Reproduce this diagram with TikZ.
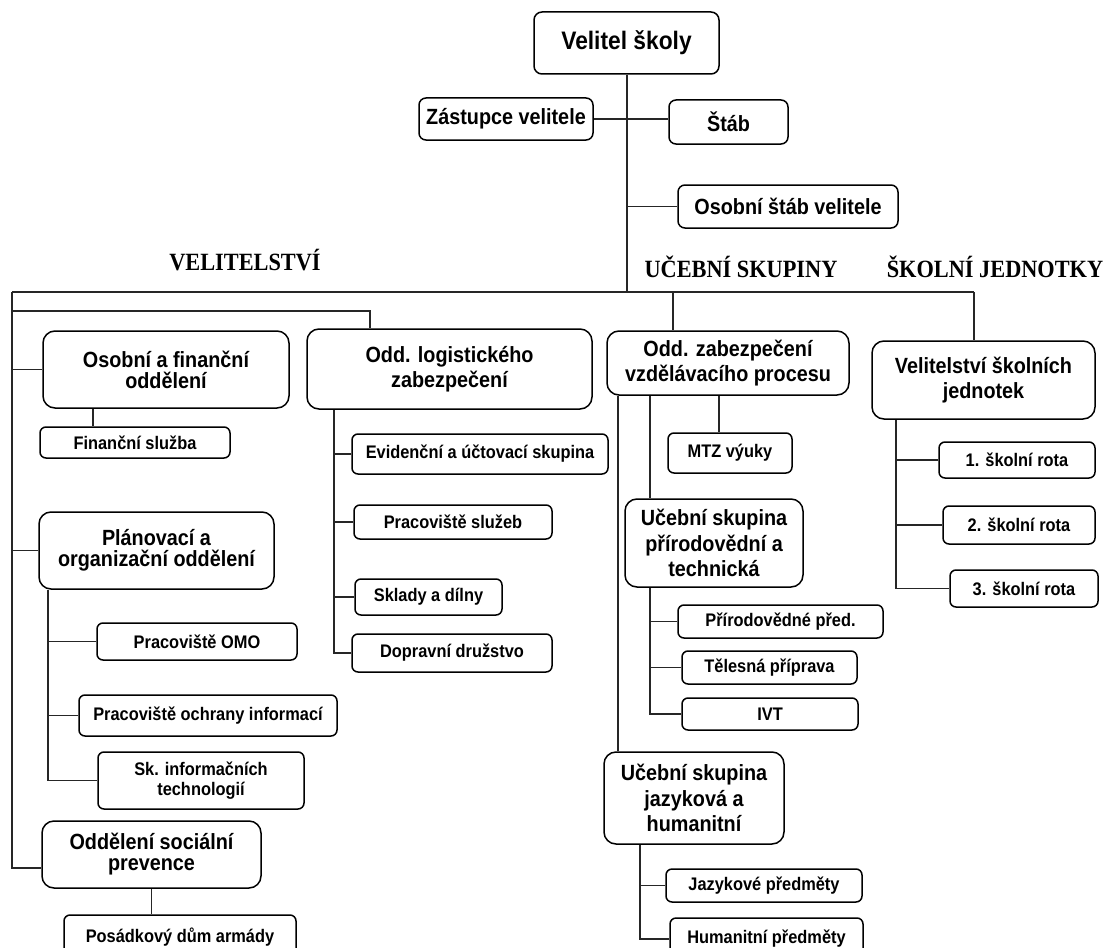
\documentclass[tikz,border=0pt]{standalone}
\usepackage{fontspec}
\setmainfont{Liberation Serif}[FakeStretch=0.9]
\newfontfamily\arialf{Liberation Sans}[FakeStretch=0.9]
\begin{document}
\begin{tikzpicture}[x=1pt,y=-1pt,
  box/.style={draw=black,line width=1.5pt,align=center,inner sep=0pt,font=\arialf\bfseries},
  topbox/.style={box,rounded corners=8pt,font=\arialf\bfseries\fontsize{25.3}{28}\selectfont},
  midbox/.style={box,rounded corners=12pt,font=\arialf\bfseries\fontsize{22}{21}\selectfont},
  midboxw/.style={box,rounded corners=12pt,font=\arialf\bfseries\fontsize{22}{25.5}\selectfont},
  hbox/.style={box,rounded corners=7pt,font=\arialf\bfseries\fontsize{22}{22}\selectfont},
  subbox/.style={box,rounded corners=6pt,font=\arialf\bfseries\fontsize{18.2}{20}\selectfont},
  conn/.style={draw=black!85,line width=1.2pt},
  heading/.style={font=\bfseries\fontsize{24.8}{26}\selectfont,inner sep=0pt}
]
\useasboundingbox (0,0) rectangle (1110,947);

% top
\node[topbox,minimum width=185,minimum height=62] (velitel) at (626.5,43) {Velitel školy};
\node[hbox,minimum width=174,minimum height=42] (zast) at (506,119) {Zástupce velitele};
\node[hbox,minimum width=119,minimum height=44] (stab) at (728.5,122) {Štáb};
\node[hbox,minimum width=220,minimum height=43] (osstab) at (788,206.5) {Osobní štáb velitele};

% headings
\node[heading] (h1) at (245,260) {VELITELSTVÍ};
\node[heading] (h2) at (741,267) {UČEBNÍ SKUPINY};
\node[heading] (h3) at (995,267) {ŠKOLNÍ JEDNOTKY};

% velitelstvi
\node[midbox,minimum width=246,minimum height=77] (osfin) at (166,369.5) {Osobní a finanční\\oddělení};
\node[subbox,minimum width=190,minimum height=31] (finsl) at (135,442.5) {Finanční služba};
\node[midbox,minimum width=235,minimum height=77] (plan) at (156.5,550.5) {Plánovací a\\organizační oddělení};
\node[subbox,minimum width=200,minimum height=37] (omo) at (197,641.5) {Pracoviště OMO};
\node[subbox,minimum width=258,minimum height=41] (ochr) at (208,715.5) {Pracoviště ochrany informací};
\node[subbox,minimum width=206,minimum height=57] (skinf) at (201,780.5) {Sk. informačních\\technologií};
\node[midbox,minimum width=219,minimum height=67] (socprev) at (151.5,854.5) {Oddělení sociální\\prevence};
\node[subbox,minimum width=232,minimum height=45] (posad) at (180,937.5) {Posádkový dům armády};

\node[midboxw,minimum width=285,minimum height=80] (logist) at (449.5,369) {Odd. logistického\\zabezpečení};
\node[subbox,minimum width=256,minimum height=40] (evid) at (480,454) {Evidenční a účtovací skupina};
\node[subbox,minimum width=198,minimum height=34] (prsl) at (453,522) {Pracoviště služeb};
\node[subbox,minimum width=147,minimum height=36] (sklad) at (428.5,597) {Sklady a dílny};
\node[subbox,minimum width=200,minimum height=38] (dopr) at (452,653) {Dopravní družstvo};

% ucebni skupiny
\node[midboxw,minimum width=242,minimum height=64] (zabvzd) at (728,363) {Odd. zabezpečení\\vzdělávacího procesu};
\node[subbox,minimum width=124,minimum height=40] (mtz) at (730,453) {MTZ výuky};
\node[midboxw,minimum width=178,minimum height=88] (uspt) at (714,543) {Učební skupina\\přírodovědní a\\technická};
\node[subbox,minimum width=205,minimum height=33] (prir) at (780.5,621.5) {Přírodovědné před.};
\node[subbox,minimum width=175,minimum height=33] (teles) at (769.5,667.5) {Tělesná příprava};
\node[subbox,minimum width=176,minimum height=32] (ivt) at (770,714) {IVT};
\node[midboxw,minimum width=180,minimum height=92] (usjh) at (694,798) {Učební skupina\\jazyková a\\humanitní};
\node[subbox,minimum width=196,minimum height=33] (jazp) at (764,885.5) {Jazykové předměty};
\node[subbox,minimum width=193,minimum height=42] (hump) at (766.5,939) {Humanitní předměty};

% skolni jednotky
\node[midboxw,minimum width=223,minimum height=78] (velsj) at (983.5,380) {Velitelství školních\\jednotek};
\node[subbox,minimum width=156,minimum height=36] (rota1) at (1017,460) {1. školní rota};
\node[subbox,minimum width=152,minimum height=38] (rota2) at (1019,525) {2. školní rota};
\node[subbox,minimum width=148,minimum height=37] (rota3) at (1024,588.5) {3. školní rota};

% junction coordinates
\coordinate (L) at (12,292);
\coordinate (R) at (974,292);
\coordinate (T) at (627,292);
\coordinate (lg) at (370,311);
\coordinate (zv) at (673,292);
\coordinate (sp) at (12,868);
\coordinate (c93) at (93,0);
\coordinate (c48) at (48,0);
\coordinate (c334) at (334,0);
\coordinate (c618) at (618,0);
\coordinate (c650) at (650,0);
\coordinate (c719) at (719,0);
\coordinate (c640) at (640,0);
\coordinate (c896) at (896,0);

% connectors
\draw[conn] (velitel.south -| T) -- (T);
\draw[conn] (zast.east) -- (zast.east -| stab.west);
\draw[conn] (osstab.west) -- (osstab.west -| T);
\draw[conn] (L) -- (R);
\draw[conn] (L) -- (sp) -- (sp -| socprev.west);
\draw[conn] (osfin.west) -- (osfin.west -| L);
\draw[conn] (plan.west) -- (plan.west -| L);
\draw[conn] (L |- lg) -- (lg) -- (lg |- logist.north);
\draw[conn] (osfin.south -| c93) -- (finsl.north -| c93);
\draw[conn] (plan.south -| c48) |- (skinf.west);
\draw[conn] (omo.west) -- (omo.west -| c48);
\draw[conn] (ochr.west) -- (ochr.west -| c48);
\draw[conn] (socprev.south) -- (socprev.south |- posad.north);
\draw[conn] (logist.south -| c334) |- (dopr.west);
\draw[conn] (evid.west) -- (evid.west -| c334);
\draw[conn] (prsl.west) -- (prsl.west -| c334);
\draw[conn] (sklad.west) -- (sklad.west -| c334);
\draw[conn] (zv) -- (zv |- zabvzd.north);
\draw[conn] (zabvzd.south -| c618) -- (usjh.north -| c618);
\draw[conn] (zabvzd.south -| c650) -- (uspt.north -| c650);
\draw[conn] (zabvzd.south -| c719) -- (mtz.north -| c719);
\draw[conn] (uspt.south -| c650) |- (ivt.west);
\draw[conn] (prir.west) -- (prir.west -| c650);
\draw[conn] (teles.west) -- (teles.west -| c650);
\draw[conn] (usjh.south -| c640) |- (hump.west);
\draw[conn] (jazp.west) -- (jazp.west -| c640);
\draw[conn] (R) -- (R |- velsj.north);
\draw[conn] (velsj.south -| c896) |- (rota3.west);
\draw[conn] (rota1.west) -- (rota1.west -| c896);
\draw[conn] (rota2.west) -- (rota2.west -| c896);
\end{tikzpicture}
\end{document}
